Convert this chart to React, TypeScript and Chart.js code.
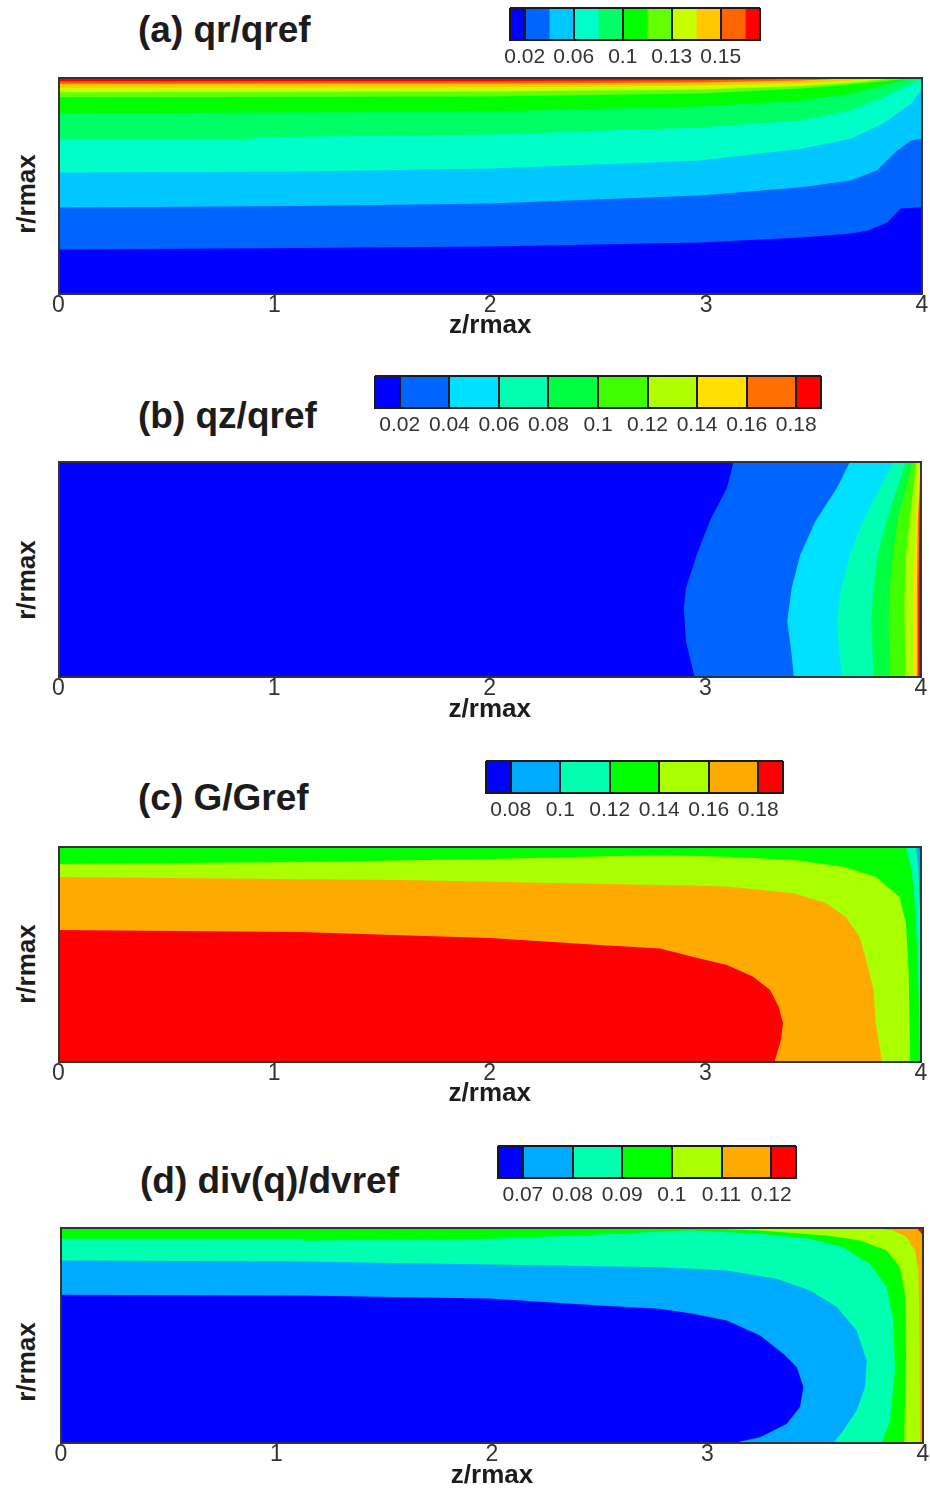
import { useEffect, useRef } from 'react';
import { Chart, registerables } from 'chart.js';

Chart.register(...registerables);

type Pt = [number, number];

const FONT = "'Liberation Sans', Arial, Helvetica, sans-serif";
const TEXT = '#333333';
const INK = '#1c1c1c';
const FRAME = '#333333';

// ---------- axes ----------
const zTicks = [0, 1, 2, 3, 4];
const zMin = 0;
const zMax = 4;
const rMin = 0;
const rMax = 1;

// ---------- (a) qr/qref ----------
const qrBarLabels = ['', '0.02', null, '0.06', null, '0.1', null, '0.13', null, '0.15', null, ''];
const qrBarWidths = [0.6, 1, 1, 1, 1, 1, 1, 1, 1, 1, 0.6];
const qrColors = ['#0000ff', '#0064ff', '#00c8ff', '#00ffc8', '#00ff64', '#00ff00', '#64ff00', '#c8ff00', '#ffc800', '#ff6400', '#ff0000'];
// contour lines [z, r]; region above each line has value >= level
const qrL1: Pt[] = [[0, 0.206], [1.12, 0.213], [2.0, 0.22], [2.97, 0.238], [3.44, 0.262], [3.67, 0.28], [3.75, 0.294], [3.84, 0.332], [3.9, 0.396], [4.0, 0.402]];
const qrL2: Pt[] = [[0, 0.4], [1.12, 0.407], [2.0, 0.419], [2.97, 0.456], [3.44, 0.494], [3.67, 0.525], [3.79, 0.572], [3.885, 0.664], [3.95, 0.711], [4.0, 0.719]];
const qrL3: Pt[] = [[0, 0.5625], [1.12, 0.567], [2.0, 0.581], [2.97, 0.618], [3.44, 0.672], [3.67, 0.719], [3.82, 0.789], [3.95, 0.882], [4.0, 0.951]];
const qrL4: Pt[] = [[0, 0.715], [0.9, 0.715], [0.9, 0.726], [2.0, 0.738], [2.97, 0.771], [3.44, 0.803], [3.67, 0.85], [3.82, 0.911], [4.0, 0.996]];
const qrL5: Pt[] = [[0, 0.836], [2.0, 0.845], [2.97, 0.868], [3.44, 0.896], [3.67, 0.928], [3.82, 0.965], [3.96, 1.0]];
const qrL6: Pt[] = [[0, 0.911], [2.0, 0.914], [2.97, 0.928], [3.44, 0.951], [3.67, 0.97], [3.9, 0.993], [3.99, 1.0]];
const qrL7: Pt[] = [[0, 0.934], [2.0, 0.937], [2.97, 0.947], [3.44, 0.963], [3.67, 0.978], [3.88, 1.0]];
const qrL8: Pt[] = [[0, 0.955], [2.0, 0.957], [2.97, 0.965], [3.44, 0.976], [3.67, 0.988], [3.8, 1.0]];
const qrL9: Pt[] = [[0, 0.973], [2.0, 0.974], [2.97, 0.979], [3.44, 0.988], [3.7, 1.0]];
const qrL10: Pt[] = [[0, 0.985], [2.0, 0.986], [2.97, 0.99], [3.44, 0.996], [3.55, 1.0]];

// ---------- (b) qz/qref ----------
const qzBarLabels = ['', '0.02', '0.04', '0.06', '0.08', '0.1', '0.12', '0.14', '0.16', '0.18', ''];
const qzBarWidths = [0.5, 1, 1, 1, 1, 1, 1, 1, 1, 0.5];
const qzColors = ['#0000ff', '#0064ff', '#00e0ff', '#00ffb0', '#00ff40', '#40ff00', '#b0ff00', '#ffe000', '#ff7000', '#ff0000'];
// region right of each line has value >= level
const qzL1: Pt[] = [[3.13, 1], [3.1, 0.879], [3.02, 0.724], [2.96, 0.569], [2.91, 0.414], [2.9, 0.321], [2.91, 0.166], [2.95, 0]];
const qzL2: Pt[] = [[3.67, 1], [3.61, 0.879], [3.51, 0.724], [3.44, 0.569], [3.4, 0.414], [3.38, 0.259], [3.4, 0.104], [3.41, 0]];
const qzL3: Pt[] = [[3.87, 1], [3.81, 0.879], [3.73, 0.724], [3.67, 0.569], [3.63, 0.414], [3.61, 0.259], [3.62, 0.104], [3.635, 0]];
const qzL4: Pt[] = [[3.93, 1], [3.89, 0.879], [3.84, 0.724], [3.8, 0.569], [3.78, 0.414], [3.77, 0.259], [3.78, 0]];
const qzL5: Pt[] = [[3.96, 1], [3.93, 0.879], [3.89, 0.724], [3.87, 0.569], [3.855, 0.414], [3.85, 0.259], [3.855, 0]];
const qzL6: Pt[] = [[3.978, 1], [3.955, 0.801], [3.93, 0.569], [3.923, 0.336], [3.928, 0]];
const qzL7: Pt[] = [[3.99, 1], [3.975, 0.724], [3.965, 0.414], [3.965, 0]];
const qzL8: Pt[] = [[3.998, 0.974], [3.985, 0.724], [3.981, 0.414], [3.981, 0]];
const qzL9: Pt[] = [[3.993, 0.77], [3.988, 0.414], [3.988, 0]];

// ---------- (c) G/Gref ----------
const gBarLabels = ['', '0.08', '0.1', '0.12', '0.14', '0.16', '0.18', ''];
const gBarWidths = [0.5, 1, 1, 1, 1, 1, 0.5];
const gColors = ['#0000ff', '#00aaff', '#00ffb0', '#00ff00', '#aaff00', '#ffaa00', '#ff0000'];
// region lower-left of each line has value >= level
const gL1: Pt[] = [[3.993, 1], [4.0, 0.96]];
const gL2: Pt[] = [[3.978, 1], [3.988, 0.893], [3.993, 0.754], [4.0, 0.64]];
const gL3: Pt[] = [[3.93, 1], [3.956, 0.893], [3.97, 0.754], [3.981, 0.54], [3.99, 0.289], [3.995, 0]];
const gL4: Pt[] = [[0, 0.921], [1.12, 0.93], [2.0, 0.944], [2.79, 0.963], [3.1, 0.955], [3.41, 0.94], [3.64, 0.908], [3.79, 0.862], [3.9, 0.769], [3.93, 0.646], [3.943, 0.413], [3.947, 0.181], [3.95, 0]];
const gL5: Pt[] = [[0, 0.861], [1.58, 0.847], [2.79, 0.824], [3.1, 0.816], [3.41, 0.785], [3.56, 0.739], [3.65, 0.676], [3.715, 0.583], [3.75, 0.46], [3.78, 0.336], [3.79, 0.181], [3.82, 0]];
const gL6: Pt[] = [[0, 0.614], [1.12, 0.605], [2.0, 0.577], [2.51, 0.545], [2.79, 0.529], [2.94, 0.49], [3.1, 0.452], [3.22, 0.398], [3.3, 0.336], [3.34, 0.258], [3.36, 0.181], [3.35, 0.104], [3.32, 0]];

// ---------- (d) div(q)/dvref ----------
const dvBarLabels = ['', '0.07', '0.08', '0.09', '0.1', '0.11', '0.12', ''];
const dvBarWidths = [0.5, 1, 1, 1, 1, 1, 0.5];
const dvColors = ['#0000ff', '#00aaff', '#00ffb0', '#00ff00', '#aaff00', '#ffaa00', '#ff0000'];
// region lower-left of each line has value < level
const dvL1: Pt[] = [[0, 0.689], [1.11, 0.686], [1.99, 0.672], [2.5, 0.64], [2.78, 0.624], [2.934, 0.601], [3.089, 0.57], [3.244, 0.5], [3.352, 0.415], [3.414, 0.353], [3.445, 0.26], [3.429, 0.167], [3.368, 0.089], [3.244, 0.027], [3.12, 0]];
const dvL2: Pt[] = [[0, 0.849], [1.11, 0.844], [1.99, 0.83], [2.78, 0.818], [3.089, 0.802], [3.321, 0.764], [3.476, 0.709], [3.6, 0.632], [3.692, 0.523], [3.739, 0.384], [3.731, 0.26], [3.692, 0.151], [3.63, 0.058], [3.584, 0]];
const dvL3: Pt[] = [[0, 0.95], [1.123, 0.95], [1.123, 0.942], [1.99, 0.95], [2.5, 0.97], [2.78, 0.984], [2.934, 0.988], [3.244, 0.973], [3.476, 0.95], [3.63, 0.911], [3.754, 0.833], [3.832, 0.725], [3.862, 0.57], [3.87, 0.337], [3.847, 0.105], [3.808, 0]];
const dvL4: Pt[] = [[2.934, 1], [3.244, 0.988], [3.553, 0.965], [3.708, 0.942], [3.832, 0.895], [3.893, 0.818], [3.916, 0.694], [3.921, 0.415], [3.916, 0.182], [3.913, 0]];
const dvL5: Pt[] = [[3.769, 1], [3.862, 0.988], [3.924, 0.957], [3.963, 0.895], [3.978, 0.802], [3.983, 0.57], [3.986, 0.26], [3.986, 0]];
const dvL6: Pt[] = [[3.971, 1], [4.0, 0.965]];

// ---------- closing corners of the domain ----------
const closeAbove: Pt[] = [[zMax, rMax], [zMin, rMax]];
const closeRight: Pt[] = [[zMax, rMin], [zMax, rMax]];
const closeLowerLeft: Pt[] = [[zMax, rMin], [zMin, rMin], [zMin, rMax]];

const PANEL_H = 285;
const PAD_TOP = 20;
const AXIS_TITLE = 26;

const panels = [
  {
    title: '(a) qr/qref', titleLeft: 138, titleBase: 42, yLabelY: 194, xTitleOffset: 32,
    plot: { left: 58.5, right: 922, top: 77.5, bottom: 293.5 },
    bar: { left: 510, top: 8, width: 250, height: 32 },
    barWidths: qrBarWidths, barColors: qrColors, barLabels: qrBarLabels,
    base: qrColors[0],
    lines: [qrL1, qrL2, qrL3, qrL4, qrL5, qrL6, qrL7, qrL8, qrL9, qrL10],
    fills: qrColors.slice(1),
    closing: closeAbove,
  },
  {
    title: '(b) qz/qref', titleLeft: 138, titleBase: 428, yLabelY: 580, xTitleOffset: 33,
    plot: { left: 58.5, right: 921, top: 462.3, bottom: 677.3 },
    bar: { left: 375, top: 376, width: 446, height: 32 },
    barWidths: qzBarWidths, barColors: qzColors, barLabels: qzBarLabels,
    base: qzColors[0],
    lines: [qzL1, qzL2, qzL3, qzL4, qzL5, qzL6, qzL7, qzL8, qzL9],
    fills: qzColors.slice(1),
    closing: closeRight,
  },
  {
    title: '(c) G/Gref', titleLeft: 138, titleBase: 810, yLabelY: 964, xTitleOffset: 32,
    plot: { left: 58.5, right: 921, top: 847, bottom: 1062.3 },
    bar: { left: 486, top: 761, width: 297, height: 32 },
    barWidths: gBarWidths, barColors: gColors, barLabels: gBarLabels,
    base: gColors[0],
    lines: [gL1, gL2, gL3, gL4, gL5, gL6],
    fills: gColors.slice(1),
    closing: closeLowerLeft,
  },
  {
    title: '(d) div(q)/dvref', titleLeft: 140, titleBase: 1193, yLabelY: 1362, xTitleOffset: 33,
    plot: { left: 61, right: 923, top: 1227.5, bottom: 1442.5 },
    bar: { left: 498, top: 1146, width: 298, height: 32 },
    barWidths: dvBarWidths, barColors: dvColors, barLabels: dvBarLabels,
    base: dvColors[6],
    lines: [dvL6, dvL5, dvL4, dvL3, dvL2, dvL1],
    fills: [dvColors[5], dvColors[4], dvColors[3], dvColors[2], dvColors[1], dvColors[0]],
    closing: closeLowerLeft,
  },
];

function ContourPanel({ p }: { p: any }) {
  const ref = useRef<HTMLCanvasElement>(null);
  useEffect(() => {
    const plotH = p.plot.bottom - p.plot.top;
    const axisH = PANEL_H - PAD_TOP - plotH;
    const lh = AXIS_TITLE * 1.2;
    const titleBottomPad = PANEL_H - lh / 2 - (PAD_TOP + plotH + p.xTitleOffset);
    const domain: Pt[] = [[zMin, rMin], [zMax, rMin], [zMax, rMax], [zMin, rMax]];
    const polys: Pt[][] = [domain, ...p.lines.map((l: Pt[]) => [...l, ...p.closing])];
    const colors: string[] = [p.base, ...p.fills];
    const datasets = polys
      .map((poly, i) => ({
        data: poly.map(([x, y]) => ({ x, y })),
        fill: 'shape',
        backgroundColor: colors[i],
        borderColor: colors[i],
        borderWidth: 0,
        pointRadius: 0,
        pointHoverRadius: 0,
        tension: 0,
      }))
      .reverse();
    const frame = { display: true, color: FRAME, width: 2, z: 1 };
    const chart = new Chart(ref.current as HTMLCanvasElement, {
      type: 'line',
      data: { datasets } as any,
      options: {
        animation: false,
        responsive: false,
        events: [],
        layout: { padding: { top: PAD_TOP, left: 0, right: 930 - p.plot.right, bottom: 0 } },
        plugins: { legend: { display: false }, tooltip: { enabled: false } },
        scales: {
          x: {
            type: 'linear', position: 'bottom', min: zMin, max: zMax,
            afterBuildTicks: (s: any) => { s.ticks = zTicks.map((v) => ({ value: v })); },
            afterFit: (s: any) => { s.height = axisH; },
            ticks: { padding: -2, color: TEXT, font: { family: FONT, size: 23 }, maxRotation: 0, autoSkip: false },
            grid: { display: false, drawTicks: false },
            border: frame,
            title: {
              display: true, text: 'z/rmax', color: INK,
              font: { family: FONT, size: AXIS_TITLE, weight: 'bold' },
              padding: { top: 0, bottom: titleBottomPad },
            },
          },
          y: {
            type: 'linear', position: 'left', min: rMin, max: rMax,
            afterFit: (s: any) => { s.width = p.plot.left; },
            ticks: { display: false },
            grid: { display: false, drawTicks: false },
            border: frame,
          },
          xTop: {
            type: 'linear', position: 'top', min: zMin, max: zMax,
            afterFit: (s: any) => { s.height = 0; },
            ticks: { display: false },
            grid: { display: false, drawTicks: false },
            border: frame,
          },
          yRight: {
            type: 'linear', position: 'right', min: rMin, max: rMax,
            afterFit: (s: any) => { s.width = 0; },
            ticks: { display: false },
            grid: { display: false, drawTicks: false },
            border: frame,
          },
        },
      } as any,
    });
    return () => chart.destroy();
  }, [p]);
  return (
    <canvas
      ref={ref}
      width={930}
      height={PANEL_H}
      style={{ position: 'absolute', left: 0, top: p.plot.top - PAD_TOP, width: 930, height: PANEL_H }}
    />
  );
}

const BAR_PAD_X = 30;
const BAR_PAD_TOP = 6;
const BAR_AXIS_H = 40;

function ColorBar({ p }: { p: any }) {
  const ref = useRef<HTMLCanvasElement>(null);
  const w = p.bar.width + 2 * BAR_PAD_X;
  const h = BAR_PAD_TOP + p.bar.height + BAR_AXIS_H;
  useEffect(() => {
    const widths: number[] = p.barWidths;
    const cum = [0];
    widths.forEach((v) => cum.push(cum[cum.length - 1] + v));
    const tickVals = cum.filter((_, i) => p.barLabels[i] !== null);
    const tickLabels = p.barLabels.filter((l: any) => l !== null);
    const line = '#1a1a1a';
    const chart = new Chart(ref.current as HTMLCanvasElement, {
      type: 'bar',
      data: {
        labels: [''],
        datasets: widths.map((v, i) => ({
          data: [v],
          backgroundColor: p.barColors[i],
          borderWidth: 0,
          barPercentage: 1,
          categoryPercentage: 1,
          stack: 'bar',
        })),
      },
      options: {
        indexAxis: 'y',
        animation: false,
        responsive: false,
        events: [],
        layout: { padding: { top: BAR_PAD_TOP, left: BAR_PAD_X, right: BAR_PAD_X, bottom: 0 } },
        plugins: { legend: { display: false }, tooltip: { enabled: false } },
        scales: {
          x: {
            type: 'linear', stacked: true, min: 0, max: cum[cum.length - 1],
            afterBuildTicks: (s: any) => { s.ticks = tickVals.map((v) => ({ value: v })); },
            afterFit: (s: any) => { s.height = BAR_AXIS_H; },
            ticks: {
              autoSkip: false, maxRotation: 0, padding: 5, color: TEXT,
              font: { family: FONT, size: 21 },
              callback: (_v: any, i: number) => tickLabels[i],
            },
            grid: { color: line, lineWidth: 2, z: 1, drawTicks: false },
            border: { display: true, color: line, width: 2, z: 1 },
          },
          y: {
            stacked: true,
            afterFit: (s: any) => { s.width = 0; },
            ticks: { display: false },
            grid: { color: line, lineWidth: 2, z: 1, drawTicks: false, offset: true },
            border: { display: false },
          },
        },
      } as any,
    });
    return () => chart.destroy();
  }, [p]);
  return (
    <canvas
      ref={ref}
      width={w}
      height={h}
      style={{ position: 'absolute', left: p.bar.left - BAR_PAD_X, top: p.bar.top - BAR_PAD_TOP, width: w, height: h }}
    />
  );
}

export default function App() {
  return (
    <div
      style={{
        position: 'absolute', left: 0, top: 0, width: 930, height: 1493,
        overflow: 'hidden', background: '#ffffff', fontFamily: FONT,
      }}
    >
      {panels.map((p, i) => (
        <div key={i}>
          <div
            style={{
              position: 'absolute', left: p.titleLeft, top: p.titleBase - 31.3,
              font: `bold 37px ${FONT}`, lineHeight: '37px', color: INK, whiteSpace: 'nowrap',
            }}
          >
            {p.title}
          </div>
          <div
            style={{
              position: 'absolute', left: 26, top: p.yLabelY,
              transform: 'translate(-50%, -50%) rotate(-90deg)',
              font: `bold ${AXIS_TITLE}px ${FONT}`, lineHeight: `${AXIS_TITLE}px`,
              color: INK, whiteSpace: 'nowrap',
            }}
          >
            r/rmax
          </div>
          <ContourPanel p={p} />
          <ColorBar p={p} />
        </div>
      ))}
    </div>
  );
}
